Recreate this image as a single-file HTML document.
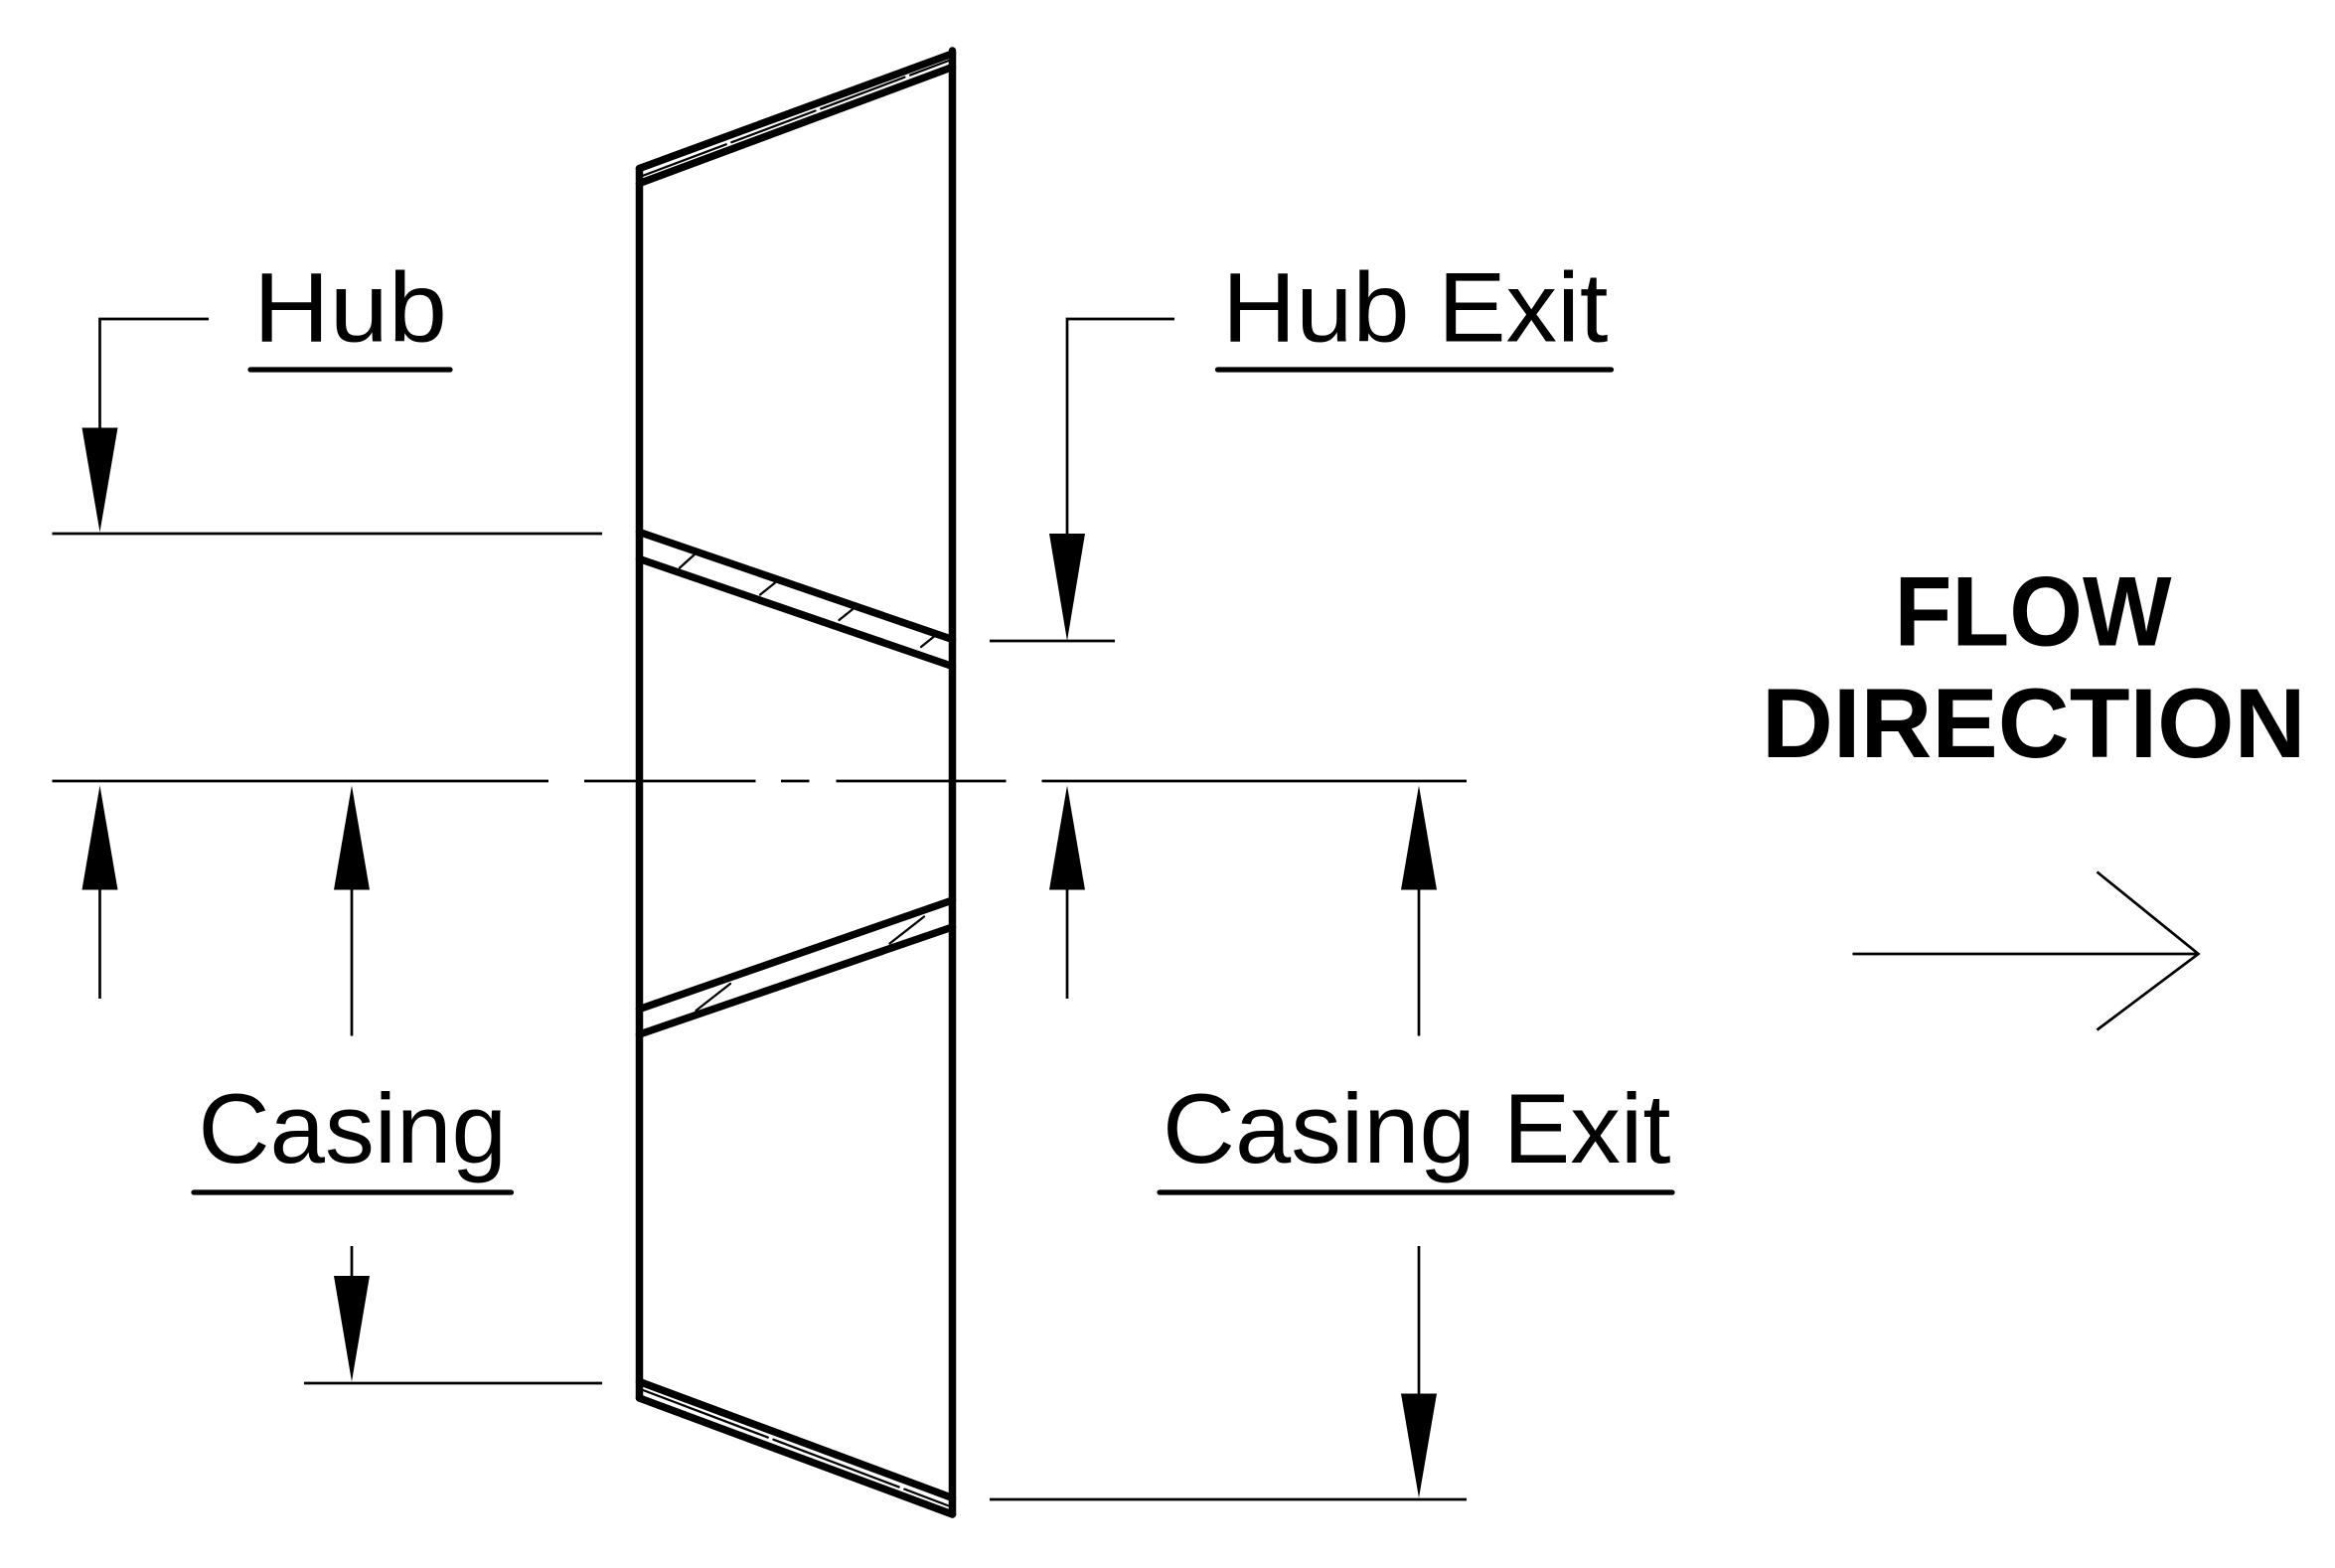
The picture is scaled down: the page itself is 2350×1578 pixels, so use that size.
<!DOCTYPE html>
<html><head><meta charset="utf-8"><style>
html,body{margin:0;padding:0;background:#fff;}
svg{display:block;}
</style></head><body>
<svg width="2350" height="1578" viewBox="0 0 1566.67 1052" xmlns="http://www.w3.org/2000/svg">
<g stroke="#000" stroke-linecap="round" fill="none">
 <line x1="429" y1="113" x2="429" y2="938" stroke-width="5"/>
 <line x1="639" y1="34" x2="639" y2="1016" stroke-width="5"/>
 <line x1="429" y1="113" x2="639" y2="36" stroke-width="5"/>
 <line x1="429" y1="123" x2="639" y2="45" stroke-width="5"/>
 <line x1="431" y1="118" x2="637" y2="40.5" stroke-width="1.5" stroke-dasharray="60 4"/>
 <line x1="429" y1="357" x2="639" y2="429" stroke-width="5"/>
 <line x1="429" y1="375" x2="639" y2="447" stroke-width="5"/>
 <line x1="456" y1="381" x2="466" y2="372" stroke-width="1.5"/>
 <line x1="510" y1="399" x2="520" y2="391" stroke-width="1.5"/>
 <line x1="563" y1="416" x2="573" y2="408" stroke-width="1.5"/>
 <line x1="618" y1="434" x2="628" y2="426" stroke-width="1.5"/>
 <line x1="429" y1="677" x2="639" y2="604" stroke-width="5"/>
 <line x1="429" y1="694" x2="639" y2="622" stroke-width="5"/>
 <line x1="467" y1="678" x2="490" y2="660" stroke-width="1.5"/>
 <line x1="597" y1="633" x2="620" y2="615" stroke-width="1.5"/>
 <line x1="429" y1="927" x2="639" y2="1005" stroke-width="5"/>
 <line x1="429" y1="938" x2="639" y2="1016" stroke-width="5"/>
 <line x1="431" y1="932.5" x2="637" y2="1010.5" stroke-width="1.5" stroke-dasharray="90 4"/>
</g>
<g stroke="#000" stroke-width="1.8" fill="none">
 <polyline points="140,214 67,214 67,300"/>
 <line x1="35" y1="358" x2="404" y2="358"/>
 <line x1="35" y1="524" x2="368" y2="524"/>
 <line x1="392" y1="524" x2="507" y2="524"/>
 <line x1="524" y1="524" x2="543" y2="524"/>
 <line x1="561" y1="524" x2="675" y2="524"/>
 <line x1="699" y1="524" x2="984" y2="524"/>
 <line x1="67" y1="590" x2="67" y2="670"/>
 <line x1="236" y1="590" x2="236" y2="695"/>
 <line x1="716" y1="590" x2="716" y2="670"/>
 <line x1="952" y1="590" x2="952" y2="695"/>
 <polyline points="788,214 716,214 716,370"/>
 <line x1="664" y1="430" x2="748" y2="430"/>
 <line x1="236" y1="836" x2="236" y2="870"/>
 <line x1="204" y1="928" x2="404" y2="928"/>
 <line x1="952" y1="836" x2="952" y2="945"/>
 <line x1="664" y1="1006" x2="984" y2="1006"/>
 <line x1="1243" y1="640" x2="1475" y2="640"/>
 <polyline points="1407,585 1475,640 1407,691" stroke-linejoin="miter"/>
</g>
<g fill="#000">
 <polygon points="55,287 79,287 67,357"/>
 <polygon points="704,358 728,358 716,430"/>
 <polygon points="55,597 79,597 67,527"/>
 <polygon points="224,597 248,597 236,527"/>
 <polygon points="704,597 728,597 716,527"/>
 <polygon points="940,597 964,597 952,527"/>
 <polygon points="224,856 248,856 236,927"/>
 <polygon points="940,935 964,935 952,1005"/>
</g>
<g stroke="#000" stroke-width="3.5" stroke-linecap="round">
 <line x1="168" y1="248" x2="302" y2="248"/>
 <line x1="817" y1="248" x2="1081" y2="248"/>
 <line x1="130" y1="800" x2="343" y2="800"/>
 <line x1="778" y1="800" x2="1122" y2="800"/>
</g>
<g font-family="Liberation Sans, sans-serif" font-size="66" fill="#000">
 <text x="170" y="229" textLength="130" lengthAdjust="spacingAndGlyphs">Hub</text>
 <text x="820" y="229" textLength="259" lengthAdjust="spacingAndGlyphs">Hub Exit</text>
 <text x="133" y="780" textLength="207" lengthAdjust="spacingAndGlyphs">Casing</text>
 <text x="780" y="780" textLength="341" lengthAdjust="spacingAndGlyphs">Casing Exit</text>
</g>
<g font-family="Liberation Sans, sans-serif" font-size="66" font-weight="bold" fill="#000">
 <text x="1271" y="433" textLength="186" lengthAdjust="spacingAndGlyphs">FLOW</text>
 <text x="1182" y="508" textLength="365" lengthAdjust="spacingAndGlyphs">DIRECTION</text>
</g>
</svg>
</body></html>
